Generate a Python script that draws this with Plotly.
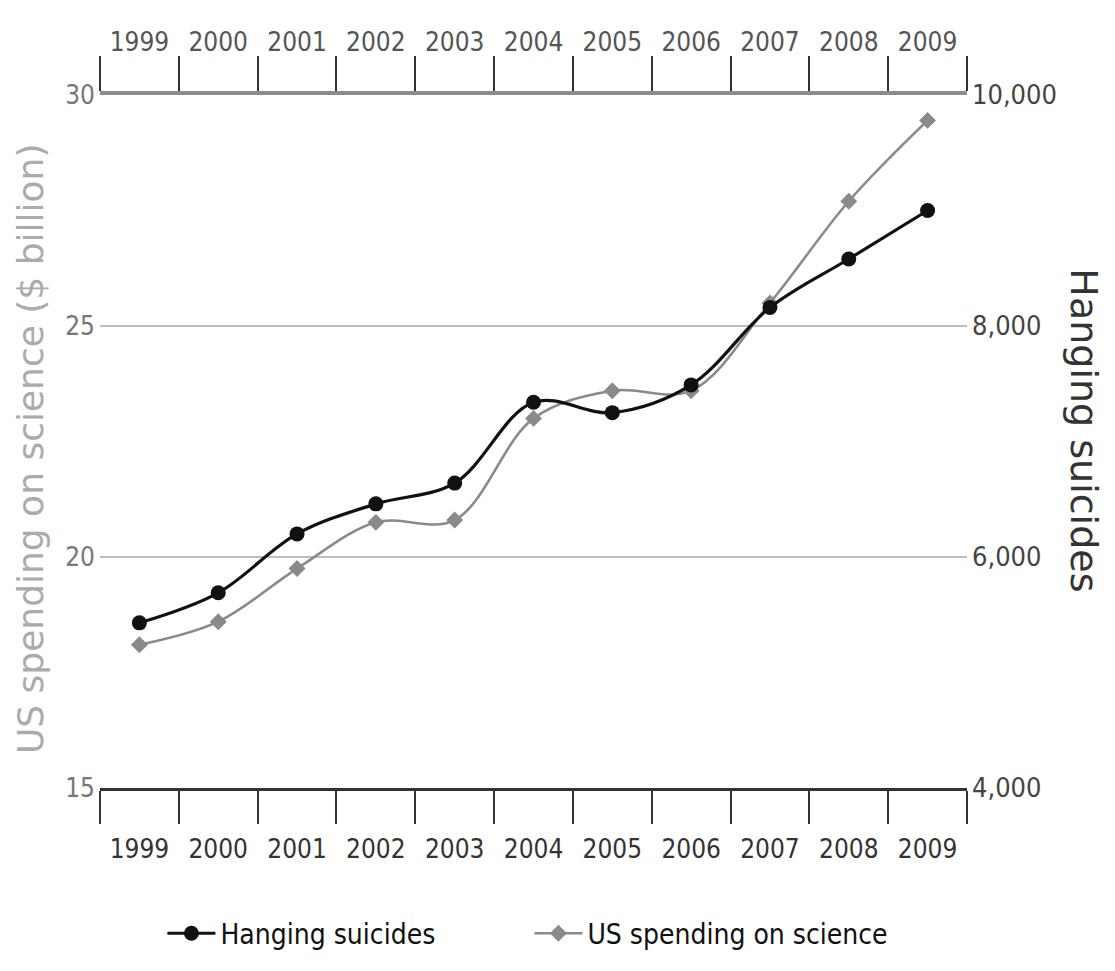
import plotly.graph_objects as go

years = ["1999", "2000", "2001", "2002", "2003", "2004", "2005", "2006", "2007", "2008", "2009"]
hanging_suicides = [5430, 5690, 6200, 6460, 6640, 7340, 7250, 7490, 8160, 8580, 9000]
science_spending = [18.1, 18.6, 19.75, 20.75, 20.8, 23.0, 23.6, 23.6, 25.5, 27.7, 29.45]
left_ticks = [15, 20, 25, 30]
right_ticks = [4000, 6000, 8000, 10000]

NARROW = "Liberation Sans Narrow, DejaVu Sans Condensed, Arial Narrow, sans-serif"
WIDE = "DejaVu Sans, Verdana, sans-serif"

fig = go.Figure()
fig.add_trace(go.Scatter(
    x=years, y=hanging_suicides, name="Hanging suicides",
    xaxis="x", yaxis="y2", mode="lines+markers",
    line=dict(color="#111111", width=3.2, shape="spline", smoothing=1),
    marker=dict(symbol="circle", size=15, color="#111111"),
))
fig.add_trace(go.Scatter(
    x=years, y=science_spending, name="US spending on science",
    xaxis="x", yaxis="y", mode="lines+markers",
    line=dict(color="#8a8a8a", width=2.6, shape="spline", smoothing=1),
    marker=dict(symbol="diamond", size=13, color="#8a8a8a"),
))
# carrier for the top (year) axis: no visible marks
fig.add_trace(go.Scatter(
    x=years, y=[None] * len(years), xaxis="x2", yaxis="y",
    mode="lines", showlegend=False, hoverinfo="skip",
))

tickfont_size = 26

fig.update_layout(
    width=1099, height=963,
    margin=dict(l=92, r=140, t=87, b=174),
    paper_bgcolor="white", plot_bgcolor="white",
    showlegend=True,
    legend=dict(
        orientation="h", x=0.072, y=-0.21, xanchor="left", yanchor="middle",
        font=dict(family=NARROW, size=28, color="#111111"),
        itemwidth=48, entrywidth=304, entrywidthmode="pixels",
        bgcolor="rgba(0,0,0,0)",
    ),
    xaxis=dict(
        type="category", categoryorder="array", categoryarray=years,
        range=[-0.5, 10.5], side="bottom", anchor="y",
        showline=True, linecolor="#333333", linewidth=2.5,
        ticks="outside", tickson="boundaries", ticklen=33, tickwidth=2, tickcolor="#333333",
        tickangle=0, ticklabelstandoff=36,
        tickfont=dict(family=NARROW, size=tickfont_size, color="#333333"),
        showgrid=False, zeroline=False,
    ),
    xaxis2=dict(
        type="category", categoryorder="array", categoryarray=years,
        range=[-0.5, 10.5], side="top", overlaying="x", anchor="y",
        showline=True, linecolor="#8c8c8c", linewidth=3.5,
        ticks="outside", tickson="boundaries", ticklen=35, tickwidth=2, tickcolor="#333333",
        tickangle=0, ticklabelstandoff=30,
        tickfont=dict(family=NARROW, size=tickfont_size, color="#555555"),
        showgrid=False, zeroline=False,
    ),
    yaxis=dict(
        range=[15, 30], tickvals=left_ticks, side="left",
        showline=False, ticks="",
        tickfont=dict(family=NARROW, size=tickfont_size, color="#777777"),
        showgrid=True, gridcolor="#bdbdbd", gridwidth=1.5, zeroline=False,
        ticklabelstandoff=4,
    ),
    yaxis2=dict(
        range=[4000, 10000], tickvals=right_ticks, tickformat=",", side="right",
        overlaying="y", anchor="x",
        showline=False, ticks="",
        tickfont=dict(family=NARROW, size=27, color="#444444"),
        showgrid=False, zeroline=False,
        ticklabelstandoff=4,
    ),
    annotations=[
        dict(text="US spending on science ($ billion)", xref="paper", yref="paper",
             x=-0.08, y=0.49, xanchor="center", yanchor="middle", textangle=-90,
             showarrow=False, font=dict(family=WIDE, size=36, color="#ababab")),
        dict(text="Hanging suicides", xref="paper", yref="paper",
             x=1.135, y=0.516, xanchor="center", yanchor="middle", textangle=90,
             showarrow=False, font=dict(family=WIDE, size=38, color="#333333")),
    ],
)

fig.write_html("out.html")
